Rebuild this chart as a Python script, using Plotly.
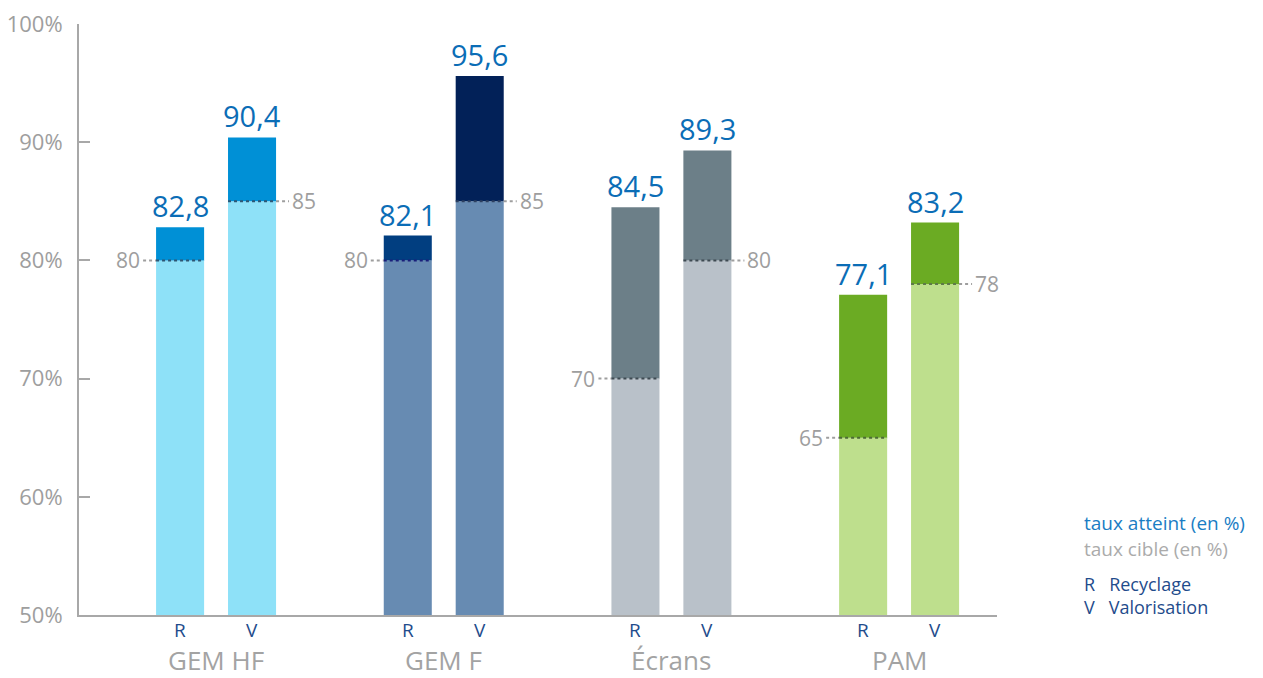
import plotly.graph_objects as go

# ---- data ----
categories = ["GEM HF", "GEM F", "Écrans", "PAM"]
recyclage_atteint = [82.8, 82.1, 84.5, 77.1]
recyclage_cible = [80, 80, 70, 65]
valorisation_atteint = [90.4, 95.6, 89.3, 83.2]
valorisation_cible = [85, 85, 80, 78]
y_ticks = [50, 60, 70, 80, 90, 100]
y_tick_labels = ["50%", "60%", "70%", "80%", "90%", "100%"]
bar_letters = ["R", "V"]
value_label_text = ["82,8", "82,1", "84,5", "77,1"]
value_label_text_v = ["90,4", "95,6", "89,3", "83,2"]

# ---- styles ----
base_colors = ["#8EE1F8", "#678BB2", "#B9C1C9", "#BEDF8D"]
top_colors_r = ["#0090D6", "#013E80", "#6C7F88", "#6BAB23"]
top_colors_v = ["#0090D6", "#022158", "#6C7F88", "#6BAB23"]
inner_dot_colors_r = ["#2E5673", "#1A1F7A", "#3E4A52", "#4C6B36"]
inner_dot_colors_v = ["#2E5673", "#2E4060", "#3E4A52", "#5E7A4A"]
FONT = "Open Sans"
GREY = "#9E9E9E"
BLUE = "#0B6DB6"
DARKBLUE = "#1F4C8C"

# page offset of the figure (body margin)
PAGE_OFF = 8
FIG_W, FIG_H = 1263, 678
PLOT_L, PLOT_R, PLOT_T, PLOT_B = 79 - PAGE_OFF, 997 - PAGE_OFF, 24 - PAGE_OFF, 615 - PAGE_OFF

OFF = 0.158
W = 0.211
GAP = 0.057
AXMIN = 50

xr = [i - OFF for i in range(len(categories))]
xv = [i + OFF for i in range(len(categories))]

fig = go.Figure()

fig.add_trace(go.Bar(x=xr, y=[c - AXMIN for c in recyclage_cible], base=[AXMIN] * 4,
                     width=W, marker=dict(color=base_colors, line=dict(width=0)),
                     hoverinfo="skip", showlegend=False))
fig.add_trace(go.Bar(x=xv, y=[c - AXMIN for c in valorisation_cible], base=[AXMIN] * 4,
                     width=W, marker=dict(color=base_colors, line=dict(width=0)),
                     hoverinfo="skip", showlegend=False))
fig.add_trace(go.Bar(x=xr, y=[a - c for a, c in zip(recyclage_atteint, recyclage_cible)],
                     base=recyclage_cible, width=W,
                     marker=dict(color=top_colors_r, line=dict(width=0)),
                     hoverinfo="skip", showlegend=False))
fig.add_trace(go.Bar(x=xv, y=[a - c for a, c in zip(valorisation_atteint, valorisation_cible)],
                     base=valorisation_cible, width=W,
                     marker=dict(color=top_colors_v, line=dict(width=0)),
                     hoverinfo="skip", showlegend=False))

shapes = []
annotations = []
for i in range(len(categories)):
    t = recyclage_cible[i]
    shapes.append(dict(type="line", xref="x", yref="y", x0=xr[i] - W / 2 - GAP, x1=xr[i] - W / 2,
                       y0=t, y1=t, line=dict(color=GREY, width=2, dash="dot")))
    shapes.append(dict(type="line", xref="x", yref="y", x0=xr[i] - W / 2, x1=xr[i] + W / 2,
                       y0=t, y1=t, line=dict(color=inner_dot_colors_r[i], width=2, dash="dot")))
    annotations.append(dict(x=xr[i] - W / 2 - GAP, y=t, xref="x", yref="y", text=str(t),
                            showarrow=False, xanchor="right", yanchor="middle", xshift=-1,
                            font=dict(family=FONT, size=21, color=GREY)))
    t = valorisation_cible[i]
    shapes.append(dict(type="line", xref="x", yref="y", x0=xv[i] + W / 2, x1=xv[i] + W / 2 + GAP,
                       y0=t, y1=t, line=dict(color=GREY, width=2, dash="dot")))
    shapes.append(dict(type="line", xref="x", yref="y", x0=xv[i] - W / 2, x1=xv[i] + W / 2,
                       y0=t, y1=t, line=dict(color=inner_dot_colors_v[i], width=2, dash="dot")))
    annotations.append(dict(x=xv[i] + W / 2 + GAP, y=t, xref="x", yref="y", text=str(t),
                            showarrow=False, xanchor="left", yanchor="middle", xshift=1,
                            font=dict(family=FONT, size=21, color=GREY)))
    annotations.append(dict(x=xr[i], y=recyclage_atteint[i], xref="x", yref="y",
                            text=value_label_text[i], showarrow=False, yanchor="bottom", yshift=0,
                            font=dict(family=FONT, size=29, color=BLUE)))
    annotations.append(dict(x=xv[i], y=valorisation_atteint[i], xref="x", yref="y",
                            text=value_label_text_v[i], showarrow=False, yanchor="bottom", yshift=0,
                            font=dict(family=FONT, size=29, color=BLUE)))
    for xx, letter in zip([xr[i], xv[i]], bar_letters):
        annotations.append(dict(x=xx, y=0, xref="x", yref="paper", text=letter, showarrow=False,
                                yanchor="middle", yshift=-15,
                                font=dict(family=FONT, size=19, color=DARKBLUE)))
    annotations.append(dict(x=i, y=0, xref="x", yref="paper", text=categories[i], showarrow=False,
                            yanchor="middle", yshift=-45,
                            font=dict(family=FONT, size=26, color="#A3A3A3")))

plot_w = PLOT_R - PLOT_L
plot_h = PLOT_B - PLOT_T


def px_to_paper(xpage, ypage):
    return ((xpage - PAGE_OFF - PLOT_L) / plot_w, (PLOT_B - (ypage - PAGE_OFF)) / plot_h)


legend_items = [
    ("taux atteint (en %)", "#1A7DC4", 523, 19),
    ("taux cible (en %)", "#ABABAB", 549, 19),
]
for text, color, ypage, size in legend_items:
    lx, ly = px_to_paper(1082, ypage)
    annotations.append(dict(x=lx, y=ly, xref="paper", yref="paper",
                            text=text, showarrow=False, xanchor="left", yanchor="middle",
                            font=dict(family=FONT, size=size, color=color)))
lx, ly = px_to_paper(1082, 595.5)
annotations.append(dict(x=lx, y=ly, xref="paper", yref="paper", align="left",
                        text="R&nbsp;&nbsp;&nbsp;Recyclage<br>V&nbsp;&nbsp;&nbsp;Valorisation",
                        showarrow=False, xanchor="left", yanchor="middle",
                        font=dict(family=FONT, size=18, color=DARKBLUE)))

fig.update_layout(
    width=FIG_W, height=FIG_H,
    margin=dict(l=PLOT_L, r=FIG_W - PLOT_R, t=PLOT_T, b=FIG_H - PLOT_B, autoexpand=False),
    plot_bgcolor="white", paper_bgcolor="white",
    barmode="overlay",
    shapes=shapes, annotations=annotations,
    font=dict(family=FONT),
    xaxis=dict(range=[-0.602, 3.43], showgrid=False, zeroline=False, showticklabels=False,
               ticks="", showline=True, linecolor="#A8A8A8", linewidth=2, fixedrange=True),
    yaxis=dict(range=[50, 100], tickvals=y_ticks, ticktext=y_tick_labels, showgrid=False,
               zeroline=False, showline=True, linecolor="#A8A8A8", linewidth=2,
               ticks="inside", ticklen=11, tickwidth=2, tickcolor="#A8A8A8",
               ticklabelstandoff=10, ticklabeloverflow="allow",
               tickfont=dict(family=FONT, size=22, color=GREY), fixedrange=True),
)

fig.write_html("out.html")
